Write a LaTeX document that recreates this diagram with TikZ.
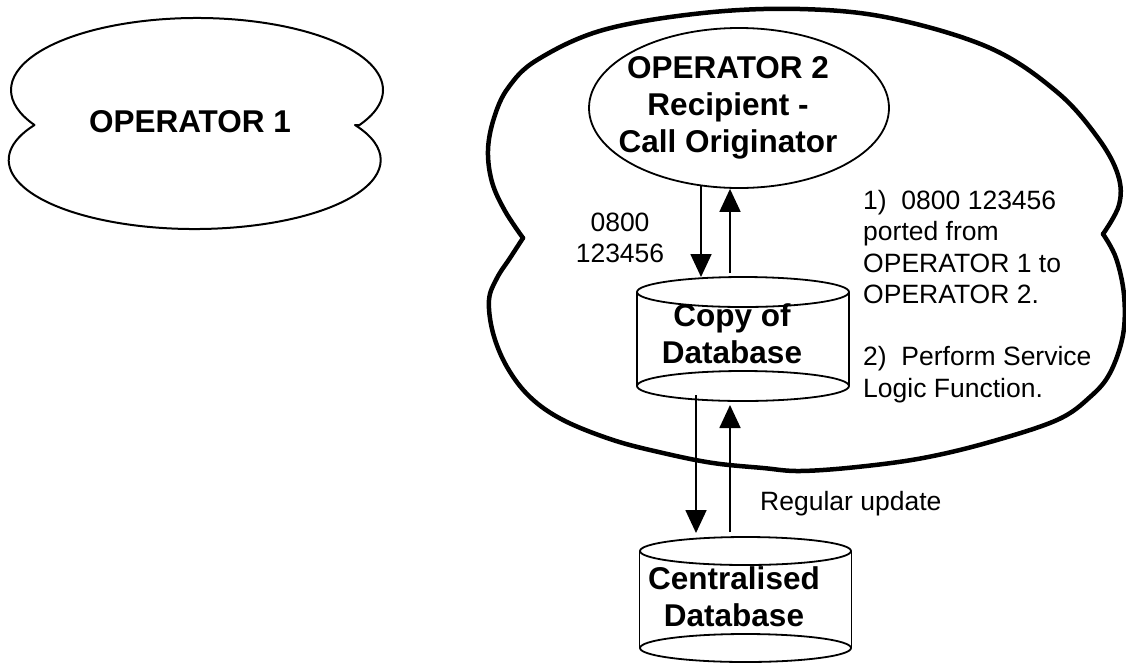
\documentclass[tikz,border=0pt]{standalone}
\usepackage{fontspec}
\setmainfont{Liberation Sans}
\usetikzlibrary{arrows.meta,shapes.geometric}
\begin{document}
\begin{tikzpicture}[x=1pt,y=-1pt,
  thinline/.style={line width=1.8pt},
  cloudline/.style={line width=2pt, line join=round},
  bigcloudline/.style={line width=4.5pt, line cap=round, line join=round},
  arr/.style={line width=1.8pt, -{Triangle[length=23pt,width=21pt]}},
  boldlbl/.style={font=\fontsize{31.5}{37}\selectfont\bfseries, align=center, inner sep=0pt},
  plainlbl/.style={font=\fontsize{26.5}{31.3}\selectfont, inner sep=0pt},
  dbbox/.style={minimum width=212pt, inner sep=0pt, outer sep=0pt}
]
\useasboundingbox (0,0) rectangle (1126,662);

% ---- Operator 1 network (two-lobed cloud) ----
\draw[cloudline] (359.5,125)
  arc[start angle=29.1, end angle=-209.1, x radius=186, y radius=72]
  arc[start angle=210.5, end angle=-30.5, x radius=186, y radius=69] -- cycle;
\node[boldlbl] (op1) at (190,122) {OPERATOR 1};

% ---- Operator 2 network (large cloud) ----
\draw[bigcloudline] plot[smooth, tension=0.6] coordinates {
  (523,238) (505,211) (492,182) (488,150) (494,118) (508,88) (537,60)
  (603,30) (703,13) (800,9) (890,18) (990,48) (1057,92) (1098,138)
  (1118,175) (1119,205) (1103,234)};
\draw[bigcloudline] plot[smooth, tension=0.6] coordinates {
  (1103,234) (1116,258) (1124,295) (1123,335) (1110,373) (1090,397)
  (1057,420) (990,442) (923,458) (857,467) (800,471) (763,468) (713,463)
  (663,453) (613,440) (563,420) (530,397) (507,367) (493,333) (489,300)
  (497,278) (510,258) (523,238)};

% ---- Call originator ----
\node[draw, ellipse, thinline, minimum width=300pt, minimum height=160pt, inner sep=0pt] (op2) at (739,108) {};
\node[boldlbl] (op2txt) at (728,108) {OPERATOR 2\\Recipient -\\Call Originator};

% ---- Copy of database (cylinder) ----
\node[dbbox, minimum height=124pt] (db1) at (743,339) {};
\draw[thinline] ([yshift=-15pt]db1.north west) -- ([yshift=15pt]db1.south west);
\draw[thinline] ([yshift=-15pt]db1.north east) -- ([yshift=15pt]db1.south east);
\draw[thinline] ([yshift=-15pt]db1.north) ellipse [x radius=106pt, y radius=15pt];
\draw[thinline] ([yshift=15pt]db1.south) ellipse [x radius=106pt, y radius=15pt];
\node[boldlbl] (db1txt) at (732,334) {Copy of\\Database};

% ---- Centralised database (cylinder) ----
\node[dbbox, minimum height=125pt] (db2) at (745.5,599.5) {};
\draw[thinline] ([yshift=-14pt]db2.north west) -- ([yshift=14pt]db2.south west);
\draw[thinline] ([yshift=-14pt]db2.north east) -- ([yshift=14pt]db2.south east);
\draw[thinline] ([yshift=-14pt]db2.north) ellipse [x radius=105.5pt, y radius=14pt];
\draw[thinline] ([yshift=14pt]db2.south) ellipse [x radius=105.5pt, y radius=14pt];
\node[boldlbl] (db2txt) at (734,597) {Centralised\\Database};

% ---- Text labels ----
\node[plainlbl, align=center] (num) at (620,238) {0800\\123456};
\node[plainlbl, align=left, anchor=north west] (notes) at (863,190)
  {1)\ \ 0800 123456\\ported from\\OPERATOR 1 to\\OPERATOR 2.\\[31.3pt]2)\ \ Perform Service\\Logic Function.};
\node[plainlbl, anchor=base west] (upd) at (760,510) {Regular update};

% ---- Message flows ----
\coordinate (a1) at (701,0);
\coordinate (a2) at (730,0);
\coordinate (a3) at (696,0);
\coordinate (a4) at (730,0);
\draw[arr, shorten <=-3pt] (op2.south -| a1) -- (db1.north -| a1);
\draw[arr, shorten <=4pt] (db1.north -| a2) -- (op2.south -| a2);
\draw[arr, shorten <=-6pt, shorten >=4pt] (db1.south -| a3) -- (db2.north -| a3);
\draw[arr, shorten <=5pt, shorten >=4pt] (db2.north -| a4) -- (db1.south -| a4);
\end{tikzpicture}
\end{document}
